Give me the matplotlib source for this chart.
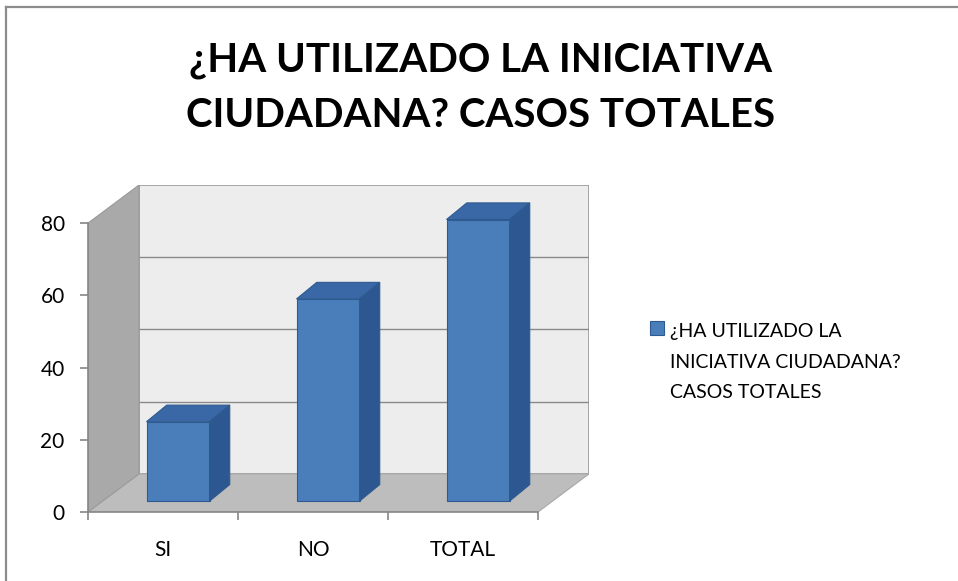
import matplotlib.pyplot as plt
from matplotlib.patches import Polygon, Rectangle
from matplotlib.lines import Line2D
import numpy as np

# Datos
categories = ["SI", "NO", "TOTAL"]
values = [22, 56, 78]
y_ticks = [0, 20, 40, 60, 80]
series_name = "¿HA UTILIZADO LA\nINICIATIVA CIUDADANA?\nCASOS TOTALES"
title = "¿HA UTILIZADO LA INICIATIVA\nCIUDADANA? CASOS TOTALES"

plt.rcParams["font.family"] = ["Lato", "DejaVu Sans"]

# Profundidad de la caja 3D (en unidades de datos)
DX, DY = 0.34, 10.56
y_max = y_ticks[-1]
x0, x1 = -0.5, len(categories) - 0.5

# Posición / profundidad de las barras
FX, FY = 0.10, 3.0
BW = 0.42
BDX, BDY = 0.135, 4.6

c_front = "#4a7ebb"
c_top = "#3a68a6"
c_side = "#2d5790"
c_edge = "#2f5a8f"
c_axis = "#868686"

fig = plt.figure(figsize=(9.58, 5.81), dpi=100)
ax = fig.add_axes([88 / 958, 69 / 581, 501 / 958, 327 / 581])
ax.set_xlim(x0, x1 + DX)
ax.set_ylim(0, y_max + DY)
ax.patch.set_visible(False)

# --- Paredes y suelo ---
ax.add_patch(Rectangle((x0 + DX, DY), x1 - x0, y_max, facecolor="#ededed",
                       edgecolor="#9a9a9a", linewidth=1.2, zorder=0))
ax.add_patch(Polygon([(x0, 0), (x1, 0), (x1 + DX, DY), (x0 + DX, DY)],
                     facecolor="#bdbdbd", edgecolor="#a8a8a8", linewidth=0.8, zorder=1))
ax.add_patch(Polygon([(x0, 0), (x0, y_max), (x0 + DX, y_max + DY), (x0 + DX, DY)],
                     facecolor="#a9a9a9", edgecolor="#9a9a9a", linewidth=0.8, zorder=1))
for t in y_ticks[1:-1]:
    ax.plot([x0 + DX, x1 + DX], [t + DY, t + DY], color="#8a8a8a", linewidth=1.0, zorder=0.5)

# --- Barras ---
xs = np.arange(len(categories)) + FX
bars = ax.bar(xs, values, width=BW, bottom=FY, color=c_front, edgecolor=c_edge,
              linewidth=0.8, zorder=3)
for x, v in zip(xs, values):
    l, r = x - BW / 2, x + BW / 2
    top = FY + v
    ax.add_patch(Polygon([(l, top), (r, top), (r + BDX, top + BDY), (l + BDX, top + BDY)],
                         facecolor=c_top, edgecolor=c_edge, linewidth=0.8, zorder=3))
    ax.add_patch(Polygon([(r, FY), (r + BDX, FY + BDY), (r + BDX, top + BDY), (r, top)],
                         facecolor=c_side, edgecolor=c_edge, linewidth=0.8, zorder=3))

# --- Ejes ---
for s in ["top", "right"]:
    ax.spines[s].set_visible(False)
ax.spines["left"].set_bounds(0, y_max)
ax.spines["bottom"].set_bounds(x0, x1)
for s in ["left", "bottom"]:
    ax.spines[s].set_color(c_axis)
    ax.spines[s].set_linewidth(1.2)
    ax.spines[s].set_zorder(2)

ax.set_yticks(y_ticks)
ax.tick_params(axis="y", length=6, width=1.2, color=c_axis, pad=10.8, labelsize=15)
ax.set_xticks(np.arange(len(categories) + 1) - 0.5)
ax.set_xticklabels([])
ax.set_xticks(np.arange(len(categories)), minor=True)
ax.set_xticklabels(categories, minor=True)
ax.tick_params(axis="x", which="major", length=6, width=1.2, color=c_axis)
ax.tick_params(axis="x", which="minor", length=0, pad=20, labelsize=15)

# --- Leyenda (cuadro alineado con la primera línea) ---
fig.add_artist(Rectangle((650 / 958, 1 - 335 / 581), 14 / 958, 14 / 581,
                         transform=fig.transFigure, facecolor=c_front,
                         edgecolor=c_edge, linewidth=0.8))
fig.text(670 / 958, 1 - 362 / 581, series_name, ha="left", va="center",
         fontsize=14, linespacing=2.0)

# --- Título ---
fig.text(481 / 958, 1 - 88 / 581, title, ha="center", va="center",
         fontsize=29, fontweight="bold", linespacing=1.6)

# Borde del gráfico
fig.add_artist(Line2D([6 / 958, 6 / 958], [0, 1 - 7 / 581], color="#8c8c8c", linewidth=1.6))
fig.add_artist(Line2D([6 / 958, 1], [1 - 7 / 581, 1 - 7 / 581], color="#8c8c8c", linewidth=1.6))

fig.savefig("out.png", dpi=100)
